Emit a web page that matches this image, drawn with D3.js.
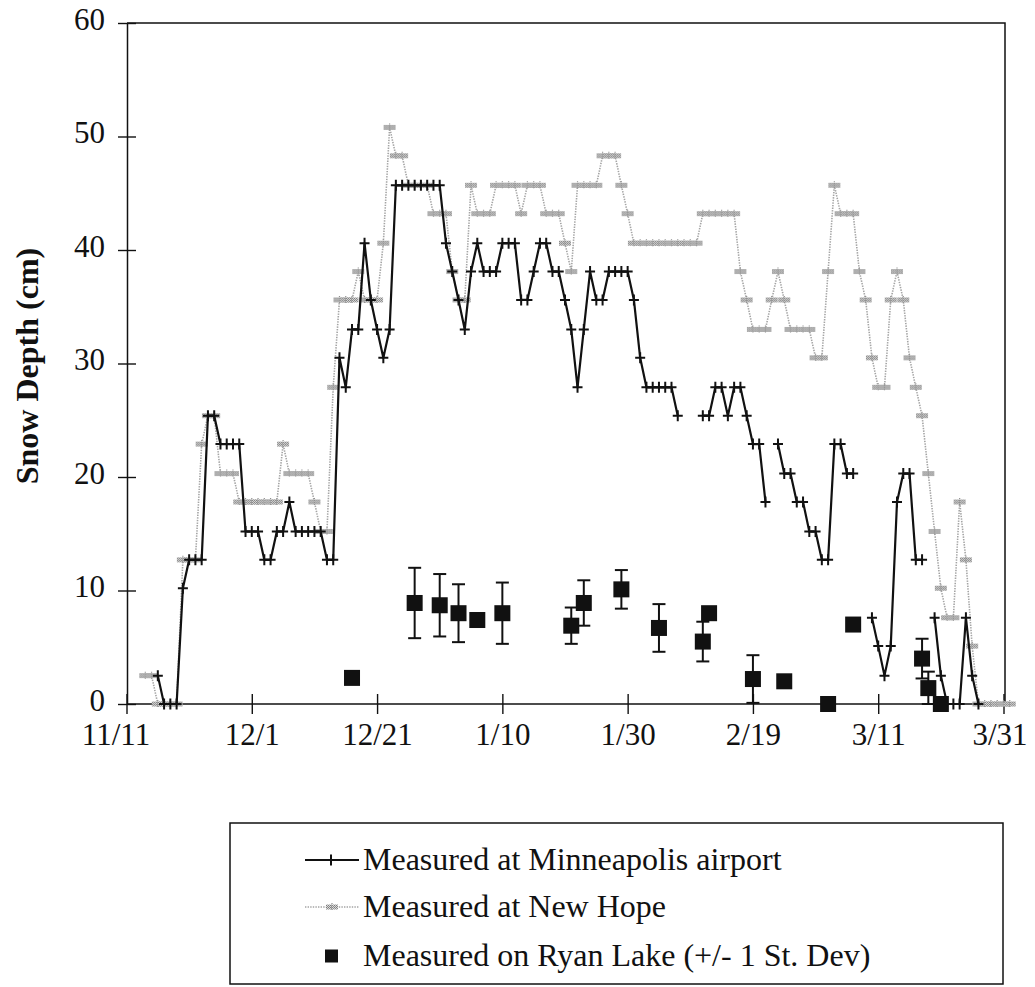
<!DOCTYPE html>
<html>
<head>
<meta charset="utf-8">
<script src="https://cdn.jsdelivr.net/npm/d3@7"></script>
<style>
  body { margin: 0; background: #fff; }
  svg { display: block; }
  text { font-family: "Liberation Serif", "Times New Roman", serif; fill: #111; }
</style>
</head>
<body>
<svg id="chart" width="1035" height="987"></svg>
<script>
// x axis: days after 11/11
const xTickDays = [0, 20, 40, 60, 80, 100, 120, 140];
const xTickLabels = ["11/11", "12/1", "12/21", "1/10", "1/30", "2/19", "3/11", "3/31"];
const yTicks = [0, 10, 20, 30, 40, 50, 60];

// daily snow depth (cm) at the Minneapolis airport, index = days after 11/11 (null = no reading)
const airportDepth = [
  null, null, null, null, null, 2.5, 0, 0, 0, 10.2,
  12.7, 12.7, 12.7, 25.4, 25.4, 22.9, 22.9, 22.9, 22.9, 15.2,
  15.2, 15.2, 12.7, 12.7, 15.2, 15.2, 17.8, 15.2, 15.2, 15.2,
  15.2, 15.2, 12.7, 12.7, 30.5, 27.9, 33.0, 33.0, 40.6, 35.6,
  33.0, 30.5, 33.0, 45.7, 45.7, 45.7, 45.7, 45.7, 45.7, 45.7,
  45.7, 40.6, 38.1, 35.6, 33.0, 38.1, 40.6, 38.1, 38.1, 38.1,
  40.6, 40.6, 40.6, 35.6, 35.6, 38.1, 40.6, 40.6, 38.1, 38.1,
  35.6, 33.0, 27.9, 33.0, 38.1, 35.6, 35.6, 38.1, 38.1, 38.1,
  38.1, 35.6, 30.5, 27.9, 27.9, 27.9, 27.9, 27.9, 25.4, null,
  null, null, 25.4, 25.4, 27.9, 27.9, 25.4, 27.9, 27.9, 25.4,
  22.9, 22.9, 17.8, null, 22.9, 20.3, 20.3, 17.8, 17.8, 15.2,
  15.2, 12.7, 12.7, 22.9, 22.9, 20.3, 20.3, null, null, 7.6,
  5.1, 2.5, 5.1, 17.8, 20.3, 20.3, 12.7, 12.7, null, 7.6,
  2.5, 0, 0, 0, 7.6, 2.5, 0
];

// daily snow depth (cm) at New Hope, index = days after 11/11
const newHopeDepth = [
  null, null, null, 2.5, 2.5, 0, 0, 0, 0, 12.7,
  12.7, 12.7, 22.9, 25.4, 25.4, 20.3, 20.3, 20.3, 17.8, 17.8,
  17.8, 17.8, 17.8, 17.8, 17.8, 22.9, 20.3, 20.3, 20.3, 20.3,
  17.8, 15.2, 15.2, 27.9, 35.6, 35.6, 35.6, 38.1, 35.6, 35.6,
  35.6, 40.6, 50.8, 48.3, 48.3, 45.7, 45.7, 45.7, 45.7, 43.2,
  43.2, 43.2, 38.1, 35.6, 35.6, 45.7, 43.2, 43.2, 43.2, 45.7,
  45.7, 45.7, 45.7, 43.2, 45.7, 45.7, 45.7, 43.2, 43.2, 43.2,
  40.6, 38.1, 45.7, 45.7, 45.7, 45.7, 48.3, 48.3, 48.3, 45.7,
  43.2, 40.6, 40.6, 40.6, 40.6, 40.6, 40.6, 40.6, 40.6, 40.6,
  40.6, 40.6, 43.2, 43.2, 43.2, 43.2, 43.2, 43.2, 38.1, 35.6,
  33.0, 33.0, 33.0, 35.6, 38.1, 35.6, 33.0, 33.0, 33.0, 33.0,
  30.5, 30.5, 38.1, 45.7, 43.2, 43.2, 43.2, 38.1, 35.6, 30.5,
  27.9, 27.9, 35.6, 38.1, 35.6, 30.5, 27.9, 25.4, 20.3, 15.2,
  10.2, 7.6, 7.6, 17.8, 12.7, 5.1, 0, 0, 0, 0,
  0, 0
];

// Ryan Lake survey: day after 11/11, mean depth (cm), one standard deviation (cm)
const ryanDays  = [36, 46, 50, 53, 56, 60, 71, 73, 79, 85, 92, 93, 100, 105, 112, 116, 127, 128, 130];
const ryanDepth = [2.3, 8.9, 8.7, 8.0, 7.4, 8.0, 6.9, 8.9, 10.1, 6.7, 5.5, 8.0, 2.2, 2.0, 0, 7.0, 4.0, 1.4, 0];
const ryanSD    = [null, 3.1, 2.75, 2.55, null, 2.7, 1.6, 2.0, 1.7, 2.1, 1.75, null, 2.1, null, null, null, 1.75, 1.45, null];

const legendLabels = [
  "Measured at Minneapolis airport",
  "Measured at New Hope",
  "Measured on Ryan Lake (+/- 1 St. Dev)"
];

const svg = d3.select("#chart");
const frame = { left: 127, right: 1005, top: 23, bottom: 704 };

const x = d3.scaleLinear().domain([0, 140]).range([126.5, 1003.5]);
const y = d3.scaleLinear().domain([0, 60]).range([frame.bottom, frame.top]);

const GRAY = "#a4a4a4";

// halftone-like fill for the New Hope markers
const defs = svg.append("defs");
const pat = defs.append("pattern").attr("id", "dots")
  .attr("width", 2).attr("height", 2).attr("patternUnits", "userSpaceOnUse");
pat.append("rect").attr("width", 2).attr("height", 2).attr("fill", "#dadada");
pat.append("rect").attr("width", 1).attr("height", 1).attr("fill", "#7c7c7c");
pat.append("rect").attr("x", 1).attr("y", 1).attr("width", 1).attr("height", 1).attr("fill", "#8c8c8c");

// plot frame (top and right edges)
svg.append("path")
  .attr("d", `M${frame.left},${frame.top}H${frame.right}V${frame.bottom}`)
  .attr("fill", "none").attr("stroke", "#111").attr("stroke-width", 1.5);

// y axis with crossing ticks
const yAxis = svg.append("g")
  .attr("transform", `translate(${frame.left},0)`)
  .call(d3.axisLeft(y).tickValues(yTicks).tickSize(0).tickPadding(22).tickFormat(d3.format("d")));
yAxis.select(".domain").attr("stroke", "#111").attr("stroke-width", 1.5);
yAxis.selectAll(".tick line").attr("x1", -9).attr("x2", 9).attr("stroke", "#111").attr("stroke-width", 1.4);
yAxis.selectAll(".tick text")
  .attr("font-family", "Liberation Serif, serif").attr("font-size", 31).attr("fill", "#111")
  .attr("dy", "0.2em");

// x axis with crossing ticks
const xAxis = svg.append("g")
  .attr("transform", `translate(0,${frame.bottom})`)
  .call(d3.axisBottom(x).tickValues(xTickDays).tickSize(0).tickPadding(19)
    .tickFormat((d, i) => xTickLabels[i]));
xAxis.select(".domain").attr("d", `M${frame.left},0H${frame.right}`)
  .attr("stroke", "#111").attr("stroke-width", 1.5);
xAxis.selectAll(".tick line").attr("y1", -10).attr("y2", 10).attr("stroke", "#111").attr("stroke-width", 1.4);
xAxis.selectAll(".tick text")
  .attr("font-family", "Liberation Serif, serif").attr("font-size", 31).attr("fill", "#111")
  .attr("dx", (d, i) => i === 0 ? -11 : (i === xTickDays.length - 1 ? -4 : 0));

// y axis title
svg.append("text")
  .attr("transform", "translate(38,366) rotate(-90)")
  .attr("text-anchor", "middle")
  .attr("font-size", 32).attr("font-weight", "bold")
  .text("Snow Depth (cm)");

const line = d3.line()
  .defined(d => d.v !== null)
  .x(d => x(d.day))
  .y(d => y(d.v));

const toPoints = arr => arr.map((v, day) => ({ day, v }));
const hopePts = toPoints(newHopeDepth);
const airPts = toPoints(airportDepth);

// New Hope: dotted gray line with hatched markers
svg.append("path").datum(hopePts)
  .attr("d", line).attr("fill", "none")
  .attr("stroke", GRAY).attr("stroke-width", 1.6).attr("stroke-dasharray", "1.4,1.2");

function hopeMarker(g) {
  g.append("rect").attr("x", -6).attr("y", -2.5).attr("width", 12).attr("height", 5)
    .attr("fill", "url(#dots)");
  g.append("line").attr("x1", 0).attr("x2", 0).attr("y1", -4).attr("y2", 4)
    .attr("stroke", "#909090").attr("stroke-width", 1.2).attr("stroke-dasharray", "1,1");
}
svg.append("g").selectAll("g")
  .data(hopePts.filter(d => d.v !== null))
  .join("g")
  .attr("transform", d => `translate(${x(d.day)},${y(d.v)})`)
  .each(function () { hopeMarker(d3.select(this)); });

// Minneapolis airport: solid black line with cross markers
svg.append("path").datum(airPts)
  .attr("d", line).attr("fill", "none")
  .attr("stroke", "#111").attr("stroke-width", 2.2).attr("stroke-linejoin", "round");

function crossMarker(g) {
  g.append("path").attr("d", "M-5,0H5M0,-5.5V5.5")
    .attr("stroke", "#111").attr("stroke-width", 2).attr("fill", "none");
}
svg.append("g").selectAll("g")
  .data(airPts.filter(d => d.v !== null))
  .join("g")
  .attr("transform", d => `translate(${x(d.day)},${y(d.v)})`)
  .each(function () { crossMarker(d3.select(this)); });

// Ryan Lake: squares with +/- 1 SD error bars
const ryan = ryanDays.map((day, i) => ({ day, v: ryanDepth[i], sd: ryanSD[i] }));
const bars = svg.append("g").selectAll("g")
  .data(ryan.filter(d => d.sd !== null))
  .join("g")
  .attr("stroke", "#111").attr("stroke-width", 2);
bars.append("line")
  .attr("x1", d => x(d.day)).attr("x2", d => x(d.day))
  .attr("y1", d => y(d.v + d.sd)).attr("y2", d => y(Math.max(0, d.v - d.sd)));
bars.append("line")
  .attr("x1", d => x(d.day) - 6.5).attr("x2", d => x(d.day) + 6.5)
  .attr("y1", d => y(d.v + d.sd)).attr("y2", d => y(d.v + d.sd));
bars.append("line")
  .attr("x1", d => x(d.day) - 6.5).attr("x2", d => x(d.day) + 6.5)
  .attr("y1", d => y(Math.max(0, d.v - d.sd))).attr("y2", d => y(Math.max(0, d.v - d.sd)));

svg.append("g").selectAll("rect")
  .data(ryan)
  .join("rect")
  .attr("x", d => x(d.day) - 8).attr("y", d => y(d.v) - 8)
  .attr("width", 16).attr("height", 16)
  .attr("fill", "#111");

// legend
const leg = svg.append("g");
leg.append("rect")
  .attr("x", 230).attr("y", 823).attr("width", 773).attr("height", 161)
  .attr("fill", "none").attr("stroke", "#111").attr("stroke-width", 1.5);

const rowY = [860, 907, 956];
// airport sample
leg.append("line").attr("x1", 305).attr("x2", 359).attr("y1", rowY[0]).attr("y2", rowY[0])
  .attr("stroke", "#111").attr("stroke-width", 1.8);
leg.append("g").attr("transform", `translate(331,${rowY[0]})`).call(crossMarker);
// New Hope sample
leg.append("line").attr("x1", 305).attr("x2", 359).attr("y1", rowY[1]).attr("y2", rowY[1])
  .attr("stroke", GRAY).attr("stroke-width", 1.6).attr("stroke-dasharray", "1.4,1.2");
leg.append("g").attr("transform", `translate(332,${rowY[1]})`).call(hopeMarker);
// Ryan Lake sample
leg.append("rect").attr("x", 325).attr("y", rowY[2] - 6.5).attr("width", 13).attr("height", 13)
  .attr("fill", "#111");

leg.selectAll("text.lbl")
  .data(legendLabels)
  .join("text")
  .attr("class", "lbl")
  .attr("x", 363).attr("y", (d, i) => rowY[i] + 10)
  .attr("font-size", 32)
  .text(d => d);
</script>
</body>
</html>
